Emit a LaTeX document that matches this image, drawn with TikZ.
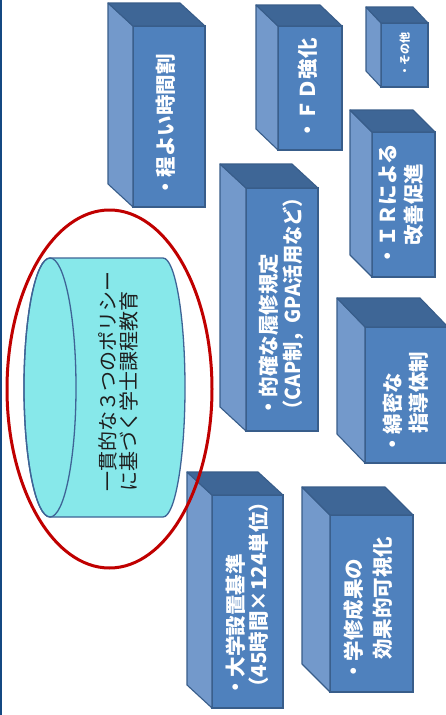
\documentclass[tikz,border=0pt]{standalone}
\usepackage{fontspec}
\newfontfamily\jp{Noto Sans CJK JP}
\usetikzlibrary{calc}
\definecolor{frontc}{RGB}{79,129,189}
\definecolor{sidec}{RGB}{115,153,203}
\definecolor{topc}{RGB}{62,102,150}
\definecolor{edgec}{RGB}{56,93,138}
\definecolor{cylc}{RGB}{135,232,234}
\definecolor{cyledge}{RGB}{62,100,150}
\definecolor{ringc}{RGB}{192,0,0}
\definecolor{borderc}{RGB}{20,72,130}
\tikzset{
  frontface/.style={draw=edgec, fill=frontc, line width=1.1pt, inner sep=0pt, outer sep=0pt},
  sideface/.style={draw=edgec, fill=sidec, line width=1.1pt, line join=round},
  topface/.style={draw=edgec, fill=topc, line width=1.1pt, line join=round},
  btext/.style={rotate=90, anchor=west, inner sep=0pt, text=white,
    font=\jp\bfseries\fontsize{20.5}{25}\selectfont, text height=0.88em, text depth=0.12em},
  ctext/.style={rotate=90, anchor=west, inner sep=0pt, text={rgb,255:red,30;green,30;blue,30},
    font=\jp\fontsize{20}{24}\selectfont, text height=0.88em, text depth=0.12em},
}
\newcommand\mycube[7]{%
  \node[frontface, minimum width={#4-#2}, minimum height={#5-#3}] (#1) at ({(#2+#4)/2},{(#3+#5)/2}) {};
  \draw[sideface] (#1.north west) -- ++(-#6,-#7) -- ([xshift=-#6pt,yshift=#7pt]#1.south west) -- (#1.south west) -- cycle;
  \draw[topface] (#1.north west) -- ++(-#6,-#7) -- ([xshift=-#6pt,yshift=#7pt]#1.north east) -- (#1.north east) -- cycle;
}
\begin{document}
\begin{tikzpicture}[x=1pt,y=-1pt]
\useasboundingbox (0,0) rectangle (446,715);
\fill[white] (0,0) rectangle (446,715);
\fill[borderc] (0,0) rectangle (1.6,715);
% cubes
\mycube{b1}{133}{26}{205}{207}{25}{23}
\mycube{b2}{278}{26}{342}{150}{22}{21}
\mycube{b3}{381}{23}{428}{87}{15}{16}
\mycube{b4}{372}{132}{435}{277}{22}{22}
\mycube{b5}{246}{188}{318}{431}{26}{24}
\mycube{b6}{365}{327}{448}{463}{28}{29}
\mycube{b7}{212}{495}{283}{708}{25}{23}
\mycube{b8}{330}{515}{413}{692}{28}{28}
% texts
\node[btext] (t1) at (170,198) {・程よい時間割};
\node[btext] (t2) at (312,141) {・ＦＤ強化};
\node[btext, font=\jp\bfseries\fontsize{11}{13}\selectfont] (t3) at (405,77) {・その他};
\node[btext] (t4a) at (392,267) {・ＩＲによる};
\node[btext] (t4b) at (418,246) {改善促進};
\node[btext] (t5a) at (273,418) {・的確な履修規定};
\node[btext, xscale=0.94] (t5b) at (297,420) {（CAP制，GPA活用など）};
\node[btext] (t6a) at (397,455) {・綿密な};
\node[btext] (t6b) at (423,434) {指導体制};
\node[btext] (t7a) at (240,698) {・大学設置基準};
\node[btext] (t7b) at (263,698) {（45時間×124単位）};
\node[btext] (t8a) at (358,682) {・学修成果の};
\node[btext] (t8b) at (387,660) {効果的可視化};
% cylinder
\path[fill=cylc, draw=cyledge, line width=1.3pt, line join=round]
  (50,258) -- (163,258) arc[start angle=-90, end angle=90, x radius=22, y radius=129.5]
  -- (50,517) arc[start angle=90, end angle=270, x radius=26, y radius=129.5] -- cycle;
\draw[cyledge, line width=1.3pt] (50,387.5) ellipse[x radius=26, y radius=129.5];
\node[ctext] (c1) at (112,492) {一貫的な３つのポリシー};
\node[ctext] (c2) at (133,492) {に基づく学士課程教育};
% red ring
\draw[ringc, line width=3pt] (109.5,389) ellipse[x radius=102.5, y radius=179];
\end{tikzpicture}
\end{document}
